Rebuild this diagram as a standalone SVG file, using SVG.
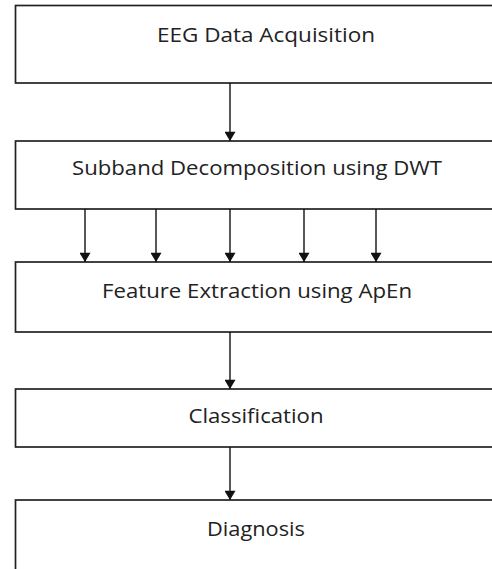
<svg xmlns="http://www.w3.org/2000/svg" width="492" height="569" viewBox="0 0 492 569">
<defs>
<style>
.box{fill:#fff;stroke:#222;stroke-width:1.7}
.lbl{font-family:"Open Sans","Noto Sans",sans-serif;font-size:20.5px;fill:#222;text-anchor:middle}
.con{stroke:#111;stroke-width:1.4;fill:none}
</style>
<marker id="ah" viewBox="0 0 10 12" refX="10" refY="6" markerWidth="12" markerHeight="11" markerUnits="userSpaceOnUse" orient="auto">
<path d="M0,0 L10,6 L0,12 z" fill="#111"/>
</marker>
</defs>
<rect width="492" height="569" fill="#fff"/>
<g id="n1"><rect class="box" x="15.5" y="5.5" width="490" height="77.5"/><text class="lbl" x="266" y="42" textLength="218" lengthAdjust="spacingAndGlyphs">EEG Data Acquisition</text></g>
<g id="n2"><rect class="box" x="15.5" y="141" width="490" height="68"/><text class="lbl" x="257" y="175" textLength="370" lengthAdjust="spacingAndGlyphs">Subband Decomposition using DWT</text></g>
<g id="n3"><rect class="box" x="15.5" y="262" width="490" height="70"/><text class="lbl" x="257" y="298" textLength="310" lengthAdjust="spacingAndGlyphs">Feature Extraction using ApEn</text></g>
<g id="n4"><rect class="box" x="15.5" y="389" width="490" height="58"/><text class="lbl" x="256" y="423" textLength="135" lengthAdjust="spacingAndGlyphs">Classification</text></g>
<g id="n5"><rect class="box" x="15.5" y="500" width="490" height="80"/><text class="lbl" x="256" y="536" textLength="98" lengthAdjust="spacingAndGlyphs">Diagnosis</text></g>
<g id="connectors">
<line class="con" x1="230" y1="83" x2="230" y2="141" marker-end="url(#ah)"/>
<line class="con" x1="85" y1="209" x2="85" y2="262" marker-end="url(#ah)"/>
<line class="con" x1="156" y1="209" x2="156" y2="262" marker-end="url(#ah)"/>
<line class="con" x1="230" y1="209" x2="230" y2="262" marker-end="url(#ah)"/>
<line class="con" x1="304" y1="209" x2="304" y2="262" marker-end="url(#ah)"/>
<line class="con" x1="376" y1="209" x2="376" y2="262" marker-end="url(#ah)"/>
<line class="con" x1="230" y1="332" x2="230" y2="389" marker-end="url(#ah)"/>
<line class="con" x1="230" y1="447" x2="230" y2="500" marker-end="url(#ah)"/>
</g>
</svg>
